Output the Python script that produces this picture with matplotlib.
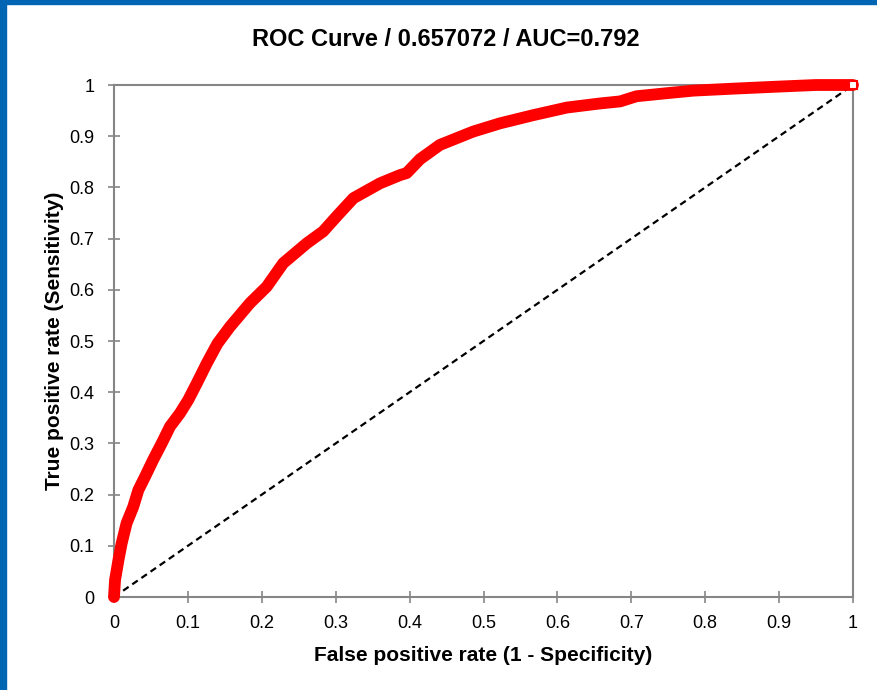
import matplotlib
matplotlib.use("Agg")
import matplotlib.pyplot as plt
from matplotlib.patches import Rectangle

# ROC points
fpr = [0, 0.0014, 0.006, 0.0104, 0.017, 0.026, 0.033, 0.042, 0.053, 0.0645,
       0.0758, 0.0893, 0.1005, 0.1119, 0.1254, 0.14, 0.157, 0.184, 0.2066, 0.229,
       0.261, 0.283, 0.301, 0.324, 0.360, 0.387, 0.396, 0.414, 0.441, 0.486,
       0.522, 0.567, 0.613, 0.658, 0.685, 0.707, 0.748, 0.784, 0.84, 0.901,
       0.95, 1.0]
tpr = [0, 0.033, 0.072, 0.105, 0.144, 0.176, 0.209, 0.235, 0.268, 0.300,
       0.333, 0.359, 0.385, 0.417, 0.456, 0.495, 0.528, 0.574, 0.606, 0.652,
       0.691, 0.714, 0.743, 0.779, 0.808, 0.824, 0.828, 0.855, 0.883, 0.909,
       0.925, 0.941, 0.956, 0.964, 0.968, 0.978, 0.984, 0.989, 0.993, 0.997,
       1.0, 1.0]
diag = [0, 1]
ticks = [0, 0.1, 0.2, 0.3, 0.4, 0.5, 0.6, 0.7, 0.8, 0.9, 1]
tick_labels = ["0", "0.1", "0.2", "0.3", "0.4", "0.5", "0.6", "0.7", "0.8", "0.9", "1"]

title = "ROC Curve / 0.657072 / AUC=0.792"
xlabel = "False positive rate (1 - Specificity)"
ylabel = "True positive rate (Sensitivity)"

plt.rcParams['font.family'] = ['Liberation Sans', 'DejaVu Sans']

fig = plt.figure(figsize=(8.77, 6.90), dpi=100)
# blue frame on left and top
fig.patches.append(Rectangle((0, 0), 6 / 877, 1, transform=fig.transFigure,
                             color='#0066b3', zorder=0))
fig.patches.append(Rectangle((0, 1 - 4 / 690), 1, 4 / 690, transform=fig.transFigure,
                             color='#0066b3', zorder=0))

ax = fig.add_axes([114 / 877, 93 / 690, 739 / 877, 512 / 690])

ax.plot(diag, diag, color='black', lw=1.6, linestyle=(0, (3, 2)), zorder=3)
ax.plot(fpr, tpr, color='#ff0000', lw=8.5, solid_capstyle='round',
        solid_joinstyle='round', clip_on=False, zorder=4)
ax.plot([1], [1], marker='s', markersize=6, markerfacecolor='white',
        markeredgecolor='#ff0000', markeredgewidth=1.5, clip_on=False, zorder=5)

ax.set_xlim(0, 1)
ax.set_ylim(0, 1)
ax.set_xticks(ticks)
ax.set_xticklabels(tick_labels)
ax.set_yticks(ticks)
ax.set_yticklabels(tick_labels)

for s in ax.spines.values():
    s.set_color('#868686')
    s.set_linewidth(1.5)
ax.tick_params(direction='inout', length=8, width=1.2, color='#868686',
               labelsize=13, labelcolor='black')
ax.tick_params(axis='x', pad=9)
ax.tick_params(axis='y', pad=10)

# title sits centred on the whole chart, not the plot area
fig.text(446 / 877, 1 - 40 / 690, title, fontsize=17, fontweight='bold',
         ha='center', va='center')
ax.set_xlabel(xlabel, fontsize=15, fontweight='bold', labelpad=10)
ax.set_ylabel(ylabel, fontsize=15, fontweight='bold', labelpad=4)

fig.savefig("out.png", dpi=100)
